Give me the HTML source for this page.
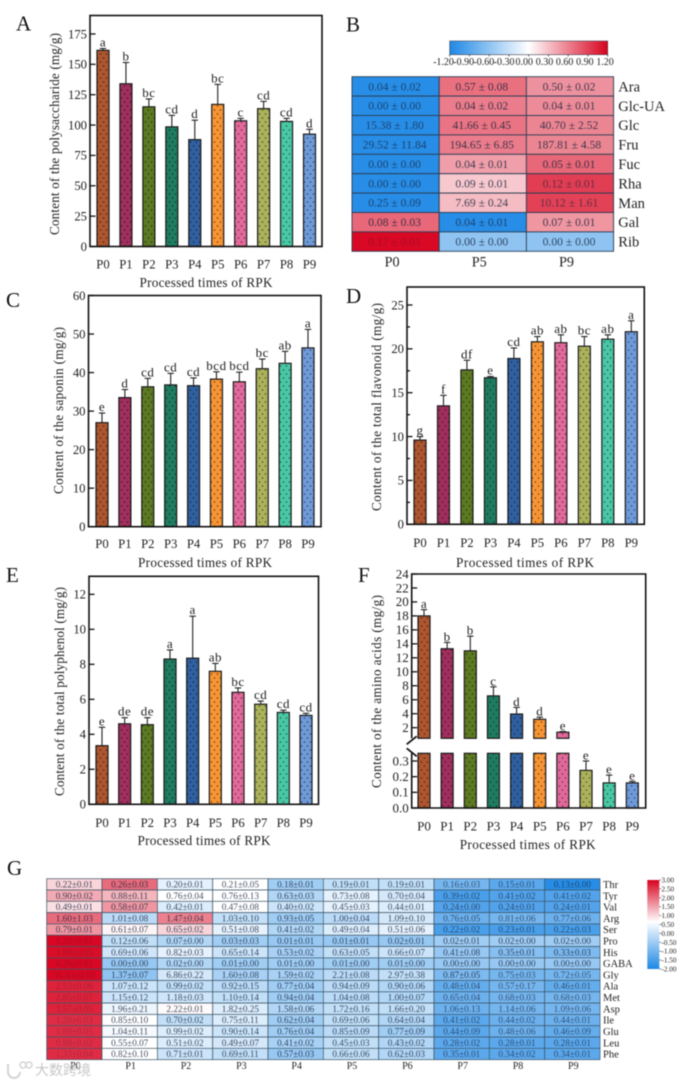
<!DOCTYPE html>
<html lang="en">
<head>
<meta charset="utf-8">
<title>RPK processing charts</title>
<style>
  html,body{margin:0;padding:0;background:#fff;}
  #figure{display:block;width:691px;height:1084px;filter:blur(0.4px);}
  text{font-family:"Liberation Serif","Noto Serif CJK SC",serif;fill:#222;}
  .panel{font-size:21px;fill:#111;}
  .axt{font-size:13.2px;}
</style>
</head>
<body>
<svg id="figure" xmlns="http://www.w3.org/2000/svg" width="691" height="1084" viewBox="0 0 691 1084">
  <defs>
    <pattern id="dots" width="6" height="8" patternUnits="userSpaceOnUse">
      <circle cx="1.5" cy="2" r="0.8" fill="#000" fill-opacity="0.55"/>
      <circle cx="4.5" cy="6" r="0.8" fill="#000" fill-opacity="0.55"/>
    </pattern>
    <linearGradient id="gradB" x1="0" x2="1" y1="0" y2="0">
      <stop offset="0" stop-color="#1e88e5"/><stop offset="0.5" stop-color="#ffffff"/><stop offset="1" stop-color="#d8021e"/>
    </linearGradient>
    <linearGradient id="gradG" x1="0" x2="0" y1="0" y2="1">
      <stop offset="0" stop-color="#d8021e"/><stop offset="0.47" stop-color="#ffffff"/><stop offset="1" stop-color="#1e88e5"/>
    </linearGradient>
  </defs>

  <g id="chart-a">
    <text class="panel" x="16" y="30.5">A</text>
    <text class="axt" transform="translate(59,134) rotate(-90)" text-anchor="middle" textLength="202">Content of the polysaccharide (mg/g)</text>
    <text class="axt" x="206" y="287" text-anchor="middle" textLength="133">Processed times of RPK</text>
  </g>

  <g id="chart-b">
    <text class="panel" x="346" y="31.5">B</text>
    <rect x="449.7" y="41" width="158" height="13.7" fill="url(#gradB)" stroke="#445" stroke-width="0.6"/>
  </g>

  <g id="chart-c">
    <text class="panel" x="6" y="307">C</text>
    <text class="axt" transform="translate(63,410.5) rotate(-90)" text-anchor="middle" textLength="167">Content of the saponin (mg/g)</text>
    <text class="axt" x="205" y="567" text-anchor="middle" textLength="134">Processed times of RPK</text>
  </g>

  <g id="chart-d">
    <text class="panel" x="346" y="303">D</text>
    <text class="axt" transform="translate(381,407) rotate(-90)" text-anchor="middle" textLength="208">Content of the total flavonoid (mg/g)</text>
    <text class="axt" x="525" y="567" text-anchor="middle" textLength="138">Processed times of RPK</text>
  </g>

  <g id="chart-e">
    <text class="panel" x="6" y="582">E</text>
    <text class="axt" transform="translate(64,691.5) rotate(-90)" text-anchor="middle" textLength="209">Content of the total polyphenol (mg/g)</text>
    <text class="axt" x="204" y="845" text-anchor="middle" textLength="133">Processed times of RPK</text>
  </g>

  <g id="chart-f">
    <text class="panel" x="358" y="582">F</text>
    <text class="axt" transform="translate(381,691.5) rotate(-90)" text-anchor="middle" textLength="193">Content of the amino acids (mg/g)</text>
    <text class="axt" x="527.7" y="849" text-anchor="middle" textLength="136">Processed times of RPK</text>
  </g>

  <g id="chart-g">
    <text class="panel" x="7" y="875">G</text>
    <rect x="647.3" y="880" width="12" height="89" fill="url(#gradG)" stroke="none"/>
  </g>

  <g id="watermark" opacity="0.95">
    <path d="M8 1064 v8 a6 6 0 0 0 12 0" fill="none" stroke="#d2d2d2" stroke-width="2"/>
    <circle cx="23" cy="1065" r="3" fill="none" stroke="#d2d2d2" stroke-width="1.5"/>
    <circle cx="29" cy="1065" r="3" fill="none" stroke="#d2d2d2" stroke-width="1.5"/>
    <text x="35" y="1075" font-size="14" style="fill:#c4c4c4;font-family:'Liberation Sans','Noto Sans CJK SC',sans-serif">大数跨境</text>
  </g>
</svg>

<script>
// ---------- shared categories ----------
const categories = ['P0','P1','P2','P3','P4','P5','P6','P7','P8','P9'];
const barColors = ['#ad5630','#a02f5e','#5c7a22','#1f7c60','#30609f','#f79433','#e2699b','#abb25a','#49c8a5','#6f9ad9'];

// ---------- chart A ----------
const aValues = [161.5,134,115,98.5,88,117,103.5,113.5,103,92.5];
const aUpper  = [163,151.5,121.5,108,104,133.5,105.5,119.5,105.5,96.5];
const aLetters = ['a','b','bc','cd','d','bc','c','cd','cd','d'];
const aTicks = [0,25,50,75,100,125,150,175];

// ---------- chart C ----------
const cValues = [27,33.5,36.3,36.8,36.6,38.3,37.6,41,42.4,46.4];
const cUpper  = [29.5,35.6,38.5,39.8,38.6,40.2,40.1,43.5,45.5,51.2];
const cLetters = ['e','d','cd','cd','cd','bcd','bcd','bc','ab','a'];
const cTicks = [0,10,20,30,40,50,60];

// ---------- chart D ----------
const dValues = [9.6,13.5,17.6,16.7,18.9,20.8,20.7,20.3,21.1,21.95];
const dUpper  = [10,14.7,18.7,16.85,20.1,21.4,21.6,21.4,21.6,23.2];
const dLetters = ['g','f','df','e','cd','ab','ab','bc','ab','a'];
const dTicks = [0,5,10,15,20,25];
const dMinorTicks = [2.5,7.5,12.5,17.5,22.5];

// ---------- chart E ----------
const eValues = [3.35,4.6,4.55,8.3,8.35,7.6,6.4,5.72,5.25,5.08];
const eUpper  = [4.4,4.95,4.95,8.82,10.75,8.05,6.65,5.9,5.38,5.2];
const eLetters = ['e','de','de','a','a','ab','bc','cd','cd','cd'];
const eTicks = [0,2,4,6,8,10,12];

// ---------- chart F (broken axis) ----------
const fValues = [18,13.3,13,6.55,3.95,3.2,1.35,0.24,0.16,0.16];
const fUpper  = [18.9,14.2,15.1,7.85,4.9,3.5,1.45,0.3,0.21,0.17];
const fLetters = ['a','b','b','c','d','d','e','e','e','e'];
const fUpperTicks = [2,4,6,8,10,12,14,16,18,20,22,24];
const fLowerTicks = [0,0.1,0.2,0.3];

// ---------- heatmap B ----------
const bRows = ['Ara','Glc-UA','Glc','Fru','Fuc','Rha','Man','Gal','Rib'];
const bCols = ['P0','P5','P9'];
const bLabels = [
  ['0.04 ± 0.02','0.57 ± 0.08','0.50 ± 0.02'],
  ['0.00 ± 0.00','0.04 ± 0.02','0.04 ± 0.01'],
  ['15.38 ± 1.80','41.66 ± 0.45','40.70 ± 2.52'],
  ['29.52 ± 11.84','194.65 ± 6.85','187.81 ± 4.58'],
  ['0.00 ± 0.00','0.04 ± 0.01','0.05 ± 0.01'],
  ['0.00 ± 0.00','0.09 ± 0.01','0.12 ± 0.01'],
  ['0.25 ± 0.09','7.69 ± 0.24','10.12 ± 1.61'],
  ['0.08 ± 0.03','0.04 ± 0.01','0.07 ± 0.01'],
  ['0.17 ± 0.01','0.00 ± 0.00','0.00 ± 0.00']
];
const bScores = [
  [-1.15,0.68,0.52],
  [-1.15,0.62,0.55],
  [-1.15,0.66,0.58],
  [-1.15,0.62,0.58],
  [-1.15,0.46,0.72],
  [-1.15,0.26,0.92],
  [-1.15,0.32,0.9],
  [0.72,-1.15,0.5],
  [1.17,-0.6,-0.6]
];
const bBarTicks = ['-1.20','-0.90','-0.60','-0.30','0.00','0.30','0.60','0.90','1.20'];

// ---------- heatmap G ----------
const gRows = ['Thr','Tyr','Val','Arg','Ser','Pro','His','GABA','Gly','Ala','Met','Asp','Ile','Glu','Leu','Phe'];
const gLabels = [
  ['0.22±0.01','0.26±0.03','0.20±0.01','0.21±0.05','0.18±0.01','0.19±0.01','0.19±0.01','0.16±0.03','0.15±0.01','0.13±0.00'],
  ['0.90±0.02','0.88±0.11','0.76±0.04','0.76±0.13','0.63±0.03','0.73±0.08','0.70±0.04','0.39±0.02','0.41±0.02','0.41±0.02'],
  ['0.49±0.01','0.58±0.07','0.42±0.01','0.47±0.08','0.40±0.02','0.45±0.03','0.44±0.01','0.24±0.00','0.24±0.01','0.24±0.01'],
  ['1.60±1.03','1.01±0.08','1.47±0.04','1.03±0.10','0.93±0.05','1.00±0.04','1.09±0.10','0.76±0.05','0.81±0.06','0.77±0.06'],
  ['0.79±0.01','0.61±0.07','0.65±0.02','0.51±0.08','0.41±0.02','0.49±0.04','0.51±0.06','0.22±0.02','0.23±0.01','0.22±0.03'],
  ['1.35±0.01','0.12±0.06','0.07±0.00','0.03±0.03','0.01±0.01','0.01±0.01','0.02±0.01','0.02±0.01','0.02±0.00','0.02±0.00'],
  ['1.98±0.05','0.69±0.06','0.82±0.03','0.65±0.14','0.53±0.02','0.63±0.05','0.66±0.07','0.41±0.08','0.35±0.01','0.33±0.03'],
  ['0.26±0.01','0.00±0.00','0.02±0.00','0.01±0.00','0.01±0.00','0.01±0.00','0.01±0.00','0.00±0.00','0.00±0.00','0.00±0.00'],
  ['35.43±0.98','1.37±0.07','6.86±0.22','1.60±0.08','1.59±0.02','2.21±0.08','2.97±0.38','0.87±0.05','0.75±0.03','0.72±0.05'],
  ['2.53±0.06','1.07±0.12','0.99±0.02','0.92±0.15','0.77±0.04','0.94±0.09','0.90±0.06','0.48±0.04','0.57±0.17','0.46±0.01'],
  ['2.85±0.07','1.15±0.12','1.18±0.03','1.10±0.14','0.94±0.04','1.04±0.08','1.00±0.07','0.65±0.04','0.68±0.03','0.68±0.03'],
  ['3.57±0.05','1.96±0.21','2.22±0.01','1.82±0.25','1.58±0.06','1.72±0.16','1.66±0.20','1.06±0.13','1.14±0.06','1.09±0.06'],
  ['1.28±0.03','0.85±0.10','0.70±0.02','0.75±0.11','0.62±0.04','0.69±0.06','0.64±0.04','0.41±0.02','0.44±0.02','0.44±0.01'],
  ['1.69±0.05','1.04±0.11','0.99±0.02','0.90±0.14','0.76±0.04','0.85±0.09','0.77±0.09','0.44±0.09','0.48±0.06','0.46±0.09'],
  ['0.88±0.02','0.55±0.07','0.51±0.02','0.49±0.07','0.41±0.02','0.45±0.03','0.43±0.02','0.28±0.02','0.28±0.01','0.28±0.01'],
  ['1.33±0.04','0.82±0.10','0.71±0.01','0.69±0.11','0.57±0.03','0.66±0.06','0.62±0.03','0.35±0.01','0.34±0.02','0.34±0.01']
];
const gScores = [
  [1.0,2.0,0.3,0.6,-0.5,-0.1,-0.1,-1.0,-1.3,-1.9],
  [1.4,1.3,0.6,0.6,-0.3,0.3,0.1,-1.5,-1.4,-1.4],
  [0.9,1.6,0.2,0.6,0.0,0.3,0.2,-1.4,-1.4,-1.4],
  [2.0,-0.2,1.8,-0.1,-0.5,-0.2,0.1,-1.1,-1.0,-1.1],
  [1.6,0.7,1.0,0.3,-0.3,0.2,0.3,-1.5,-1.5,-1.5],
  [2.95,-0.1,-0.3,-0.5,-0.6,-0.6,-0.6,-0.5,-0.5,-0.5],
  [2.9,0.05,0.3,0.0,-0.4,-0.1,0.0,-0.6,-0.8,-0.9],
  [2.95,-0.6,-0.3,-0.5,-0.5,-0.5,-0.5,-0.6,-0.6,-0.6],
  [2.95,-0.7,0.1,-0.4,-0.4,-0.2,-0.1,-0.9,-1.0,-1.0],
  [2.7,0.0,-0.1,-0.2,-0.5,-0.2,-0.3,-1.2,-1.0,-1.2],
  [2.7,0.0,0.05,-0.1,-0.5,-0.2,-0.3,-1.1,-1.0,-1.0],
  [2.7,0.4,0.65,0.2,-0.3,-0.1,-0.1,-1.1,-1.0,-1.0],
  [2.6,0.6,-0.1,0.2,-0.5,-0.1,-0.3,-1.3,-1.1,-1.1],
  [2.6,0.5,0.2,0.0,-0.5,-0.2,-0.5,-1.3,-1.1,-1.2],
  [2.6,0.6,0.2,0.1,-0.4,-0.1,-0.3,-1.3,-1.3,-1.3],
  [2.6,0.6,0.0,-0.1,-0.6,-0.1,-0.3,-1.3,-1.3,-1.3]
];
const gBarTicks = ['3.00','2.50','2.00','1.50','1.00','0.50','0.00','-0.50','-1.00','-1.50','-2.00'];

// ---------- helpers ----------
const NS = 'http://www.w3.org/2000/svg';
function make(tag, attrs, parent, txt) {
  const n = document.createElementNS(NS, tag);
  for (const k in attrs) n.setAttribute(k, attrs[k]);
  if (txt !== undefined) n.textContent = txt;
  parent.appendChild(n);
  return n;
}
function lerp(a, b, t) { return Math.round(a + (b - a) * t); }
function heatColor(t) {
  t = Math.max(-1, Math.min(1, t));
  const to = t < 0 ? [30,136,229] : [216,2,30];
  const m = Math.abs(t);
  return 'rgb(' + lerp(255,to[0],m) + ',' + lerp(255,to[1],m) + ',' + lerp(255,to[2],m) + ')';
}
function cellTextOpacity(t) {
  if (t > 0.8) return 0.25;
  if (t < -0.6) return 0.68;
  if (t > 0.6) return 0.6;
  return 0.8;
}

function drawBar(g, cx, w, yTop, yBot, color) {
  const base = make('rect', {x:cx-w/2, y:yTop, width:w, height:yBot-yTop, fill:color}, g);
  
  
  const dots = make('rect', {x:cx-w/2, y:yTop, width:w, height:yBot-yTop, fill:'url(#dots)', stroke:'#1c1c1c', 'stroke-width':1.2}, g);
  
  
}
function drawError(g, cx, yFrom, yTo) {
  const stem = make('line', {x1:cx, x2:cx, y1:yFrom, y2:yTo, stroke:'#222', 'stroke-width':1.1}, g);
  
  
  const cap = make('line', {x1:cx-3.2, x2:cx+3.2, y1:yTo, y2:yTo, stroke:'#222', 'stroke-width':1.1}, g);
  
  
}
function drawLetter(g, cx, y, s, size) {
  const t = make('text', {x:cx, y:y, 'text-anchor':'middle', 'font-size':size, 'letter-spacing':0.5}, g, s);
  
  
}
function drawCategoryLabels(g, xOf, y, size) {
  categories.forEach(function (c, i) {
    const t = make('text', {x:xOf(i), y:y, 'text-anchor':'middle', 'font-size':size}, g, c);
    
    
  });
}
function drawYTick(g, x, y, len, label, size) {
  const tk = make('line', {x1:x, x2:x+len, y1:y, y2:y, stroke:'#111', 'stroke-width':1.3}, g);
  
  
  if (label !== null) {
    const t = make('text', {x:x-3, y:y+4.3, 'text-anchor':'end', 'font-size':size}, g, label);
    
    
  }
}

function barChart(id, box, domainMax, values, upper, letters, ticks, minor, labelY) {
  const g = document.getElementById(id);
  const yOf = function (v) { return box.bottom - (v / domainMax) * (box.bottom - box.top); };
  const xOf = function (i) { return box.x0 + i * (box.x9 - box.x0) / (categories.length - 1); };
  values.forEach(function (v, i) {
    drawError(g, xOf(i), yOf(v), yOf(upper[i]));
    drawBar(g, xOf(i), 12, yOf(v), box.bottom, barColors[i]);
    drawLetter(g, xOf(i), yOf(upper[i]) - 2, letters[i], 13);
  });
  ticks.forEach(function (v) { drawYTick(g, box.left, yOf(v), 5.5, String(v), 12.7); });
  minor.forEach(function (v) { drawYTick(g, box.left, yOf(v), 3, null, 0); });
  const frame = make('rect', {x:box.left, y:box.top, width:box.right-box.left, height:box.bottom-box.top, fill:'none', stroke:'#111', 'stroke-width':1.6}, g);
  
  
  drawCategoryLabels(g, xOf, labelY, 12.7);
}

// ---------- bar panels ----------
barChart('chart-a', {left:90,right:322,top:15.5,bottom:246.5,x0:103,x9:309.5}, 190.2, aValues, aUpper, aLetters, aTicks, [], 268.5);
barChart('chart-c', {left:88.5,right:321,top:295.5,bottom:526.7,x0:102,x9:308}, 60, cValues, cUpper, cLetters, cTicks, [], 548);
barChart('chart-d', {left:407,right:644.3,top:287,bottom:524.3,x0:420,x9:631.3}, 27.05, dValues, dUpper, dLetters, dTicks, dMinorTicks, 547);
barChart('chart-e', {left:89,right:318.5,top:576.3,bottom:804.3,x0:102,x9:306}, 13.03, eValues, eUpper, eLetters, eTicks, [], 827);

// ---------- broken-axis panel F ----------
(function () {
  const g = document.getElementById('chart-f');
  const box = {left:411.7,right:645.7,top:574,bottom:808,x0:424,x9:632.3};
  const lowerTopY = 753.3, upperBottomY = 738.3, lowerMax = 0.35;
  const yLow = function (v) { return box.bottom - (v / 0.3) * 47; };
  const yHigh = function (v) { return box.top + (24 - v) * 6.985; };
  const yOf = function (v) { return v > lowerMax ? yHigh(v) : yLow(v); };
  const xOf = function (i) { return box.x0 + i * (box.x9 - box.x0) / (categories.length - 1); };

  fValues.forEach(function (v, i) {
    const cx = xOf(i);
    drawError(g, cx, yOf(v), yOf(fUpper[i]));
    if (v > lowerMax) {
      drawBar(g, cx, 12, yOf(v), upperBottomY, barColors[i]);
      drawBar(g, cx, 12, lowerTopY, box.bottom, barColors[i]);
    } else {
      drawBar(g, cx, 12, yOf(v), box.bottom, barColors[i]);
    }
    drawLetter(g, cx, yOf(fUpper[i]) - 1.5, fLetters[i], 13);
  });
  fUpperTicks.forEach(function (v) { drawYTick(g, box.left, yHigh(v), 5.5, String(v), 13); });
  fLowerTicks.forEach(function (v) { drawYTick(g, box.left, yLow(v), 5.5, v.toFixed(1), 13); });

  const frame = make('path', {
    d:'M' + box.left + ' ' + upperBottomY + 'V' + box.top + 'H' + box.right + 'V' + box.bottom + 'H' + box.left + 'V' + lowerTopY,
    fill:'none', stroke:'#111', 'stroke-width':1.6}, g);
  
  

  const slashUp = make('line', {x1:box.left-5, x2:box.left+5, y1:upperBottomY+6, y2:upperBottomY-2, stroke:'#111', 'stroke-width':1.7}, g);
  
  
  const slashDown = make('line', {x1:box.left-5, x2:box.left+5, y1:lowerTopY-5, y2:lowerTopY+3, stroke:'#111', 'stroke-width':1.7}, g);
  
  

  drawCategoryLabels(g, xOf, 830.5, 13);
})();

// ---------- heatmap B ----------
(function () {
  const g = document.getElementById('chart-b');
  const left = 352, top = 76.7, cw = 87.2, rh = 19.4;
  bRows.forEach(function (rowName, r) {
    bCols.forEach(function (colName, c) {
      const t = bScores[r][c] / 1.2;
      const cell = make('rect', {x:left+c*cw, y:top+r*rh, width:cw, height:rh, fill:heatColor(t), stroke:'#2b3e55', 'stroke-width':0.9}, g);
      
      
      const label = make('text', {x:left+(c+0.5)*cw-1, y:top+(r+0.5)*rh+3.9, 'text-anchor':'middle', 'font-size':11.6, 'fill-opacity':cellTextOpacity(t), style:'fill:#14203a'}, g, bLabels[r][c]);
      
      
    });
    const rl = make('text', {x:618.3, y:top+(r+0.5)*rh+5, 'font-size':14.5}, g, rowName);
    
    
  });
  bCols.forEach(function (colName, c) {
    const cl = make('text', {x:left+(c+0.5)*cw-3.5, y:266.7, 'text-anchor':'middle', 'font-size':14.2}, g, colName);
    
    
  });
  bBarTicks.forEach(function (s, i) {
    const x = 449.7 + i * 158 / (bBarTicks.length - 1);
    const tk = make('line', {x1:x, x2:x, y1:54.7, y2:56.5, stroke:'#333', 'stroke-width':0.8}, g);
    
    
    const lb = make('text', {x:443.5 + i * 161.5 / (bBarTicks.length - 1), y:65, 'text-anchor':'middle', 'font-size':10}, g, s);
    
    
  });
})();

// ---------- heatmap G ----------
(function () {
  const g = document.getElementById('chart-g');
  const left = 46.7, top = 878.7, cw = 55.33, rh = 11.31;
  const zToT = function (z) { return z < 0.6 ? (z - 0.6) / 2.6 : (z - 0.6) / 2.4; };
  gRows.forEach(function (rowName, r) {
    categories.forEach(function (colName, c) {
      const t = zToT(gScores[r][c]);
      const cell = make('rect', {x:left+c*cw, y:top+r*rh, width:cw, height:rh, fill:heatColor(t), stroke:'#3d5566', 'stroke-width':0.7}, g);
      
      
      const label = make('text', {x:left+(c+0.5)*cw, y:top+(r+0.5)*rh+3.1, 'text-anchor':'middle', 'font-size':9.2, 'fill-opacity':cellTextOpacity(t), style:'fill:#14203a'}, g, gLabels[r][c]);
      
      
    });
    const rl = make('text', {x:603, y:top+(r+0.5)*rh+3.6, 'font-size':10.5}, g, rowName);
    
    
  });
  categories.forEach(function (colName, c) {
    const cl = make('text', {x:left+(c+0.5)*cw+1, y:1069, 'text-anchor':'middle', 'font-size':10}, g, colName);
    
    
  });
  gBarTicks.forEach(function (s, i) {
    const y = 880 + i * 89 / (gBarTicks.length - 1);
    const tk = make('line', {x1:659.3, x2:661.3, y1:y, y2:y, stroke:'#444', 'stroke-width':0.6}, g);
    
    
    const lb = make('text', {x:661.5, y:y+2.5, 'font-size':7.2}, g, s);
    
    
  });
})();
</script>
</body>
</html>
